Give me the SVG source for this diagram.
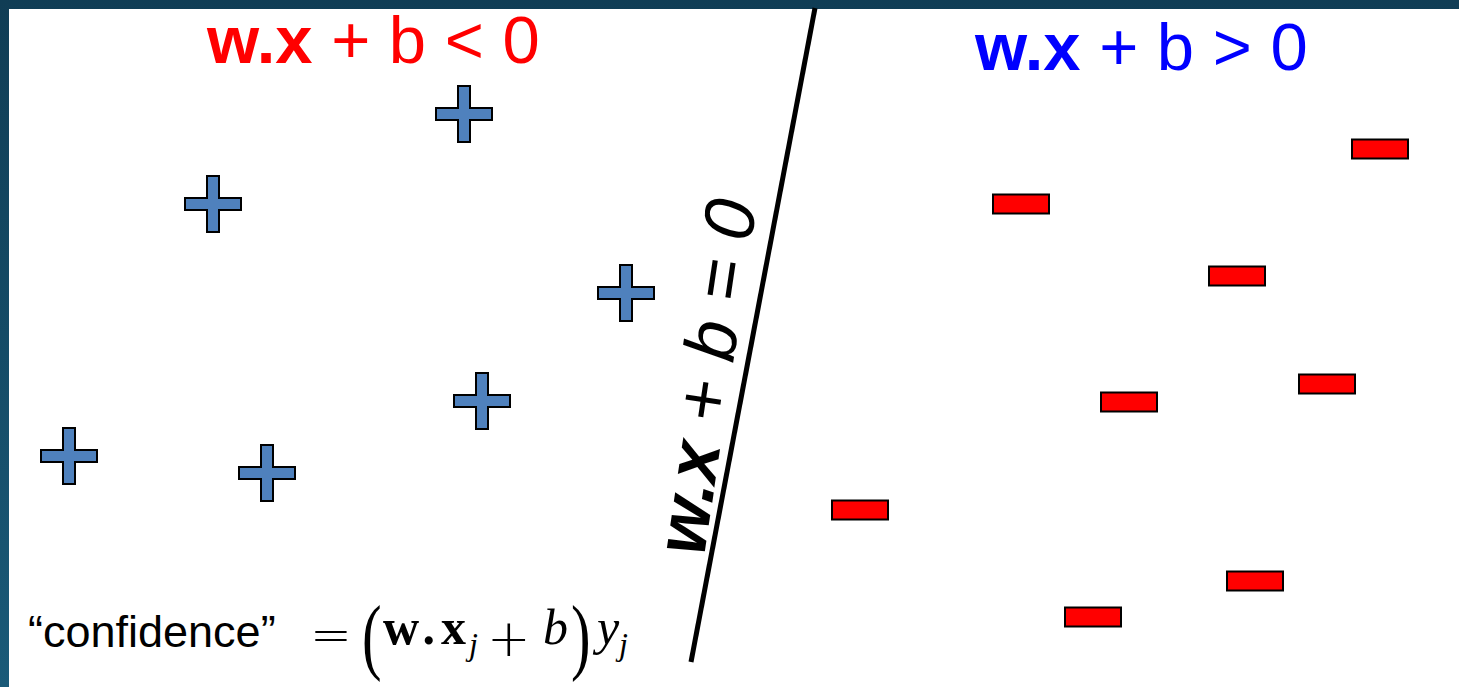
<svg xmlns="http://www.w3.org/2000/svg" xmlns:xlink="http://www.w3.org/1999/xlink" width="1459" height="687" viewBox="0 0 1459 687">
<style>
.plus{fill:#4f81bd;stroke:#000;stroke-width:2}
.minus{fill:#ff0000;stroke:#000;stroke-width:2}
.title{font-family:"Liberation Sans",Arial,sans-serif;font-size:67px}
.boundary{font-family:"Liberation Sans",Arial,sans-serif;font-size:72px;font-style:italic}
.math{font-family:"Liberation Serif","DejaVu Serif",serif;fill:#000}
.op{font-family:"DejaVu Sans","Liberation Sans",sans-serif;fill:#000;font-weight:200}
</style>
<defs>
<linearGradient id="bg" x1="0" y1="0" x2="0" y2="1">
<stop offset="0" stop-color="#103d55"/>
<stop offset="1" stop-color="#1a5a78"/>
</linearGradient>
<path id="plusShape" d="M-6,-28H6V-6H28V6H6V28H-6V6H-28V-6H-6Z"/>
<rect id="minusShape" x="-28" y="-9.5" width="56" height="19"/>
</defs>
<rect x="0" y="0" width="1459" height="687" fill="url(#bg)"/>
<rect x="9" y="9" width="1450" height="678" fill="#fff"/>

<g id="connectors">
<line x1="815" y1="8" x2="691" y2="662" stroke="#000" stroke-width="5"/>
</g>

<g id="label-neg"><text class="title" x="207" y="63" fill="#ff0000"><tspan font-weight="bold">w.x</tspan> + b &lt; 0</text></g>
<g id="label-pos"><text class="title" x="975" y="70" fill="#0000ff"><tspan font-weight="bold">w.x</tspan> + b &gt; 0</text></g>
<g id="label-boundary"><text class="boundary" transform="translate(704,557) rotate(-81.5)" fill="#000"><tspan font-weight="bold">w.x</tspan> + b = 0</text></g>

<g id="p1"><use href="#plusShape" class="plus" transform="translate(464,114)"/></g>
<g id="p2"><use href="#plusShape" class="plus" transform="translate(213,204)"/></g>
<g id="p3"><use href="#plusShape" class="plus" transform="translate(626,293)"/></g>
<g id="p4"><use href="#plusShape" class="plus" transform="translate(482,401)"/></g>
<g id="p5"><use href="#plusShape" class="plus" transform="translate(69,456)"/></g>
<g id="p6"><use href="#plusShape" class="plus" transform="translate(267,473)"/></g>

<g id="m1"><use href="#minusShape" class="minus" transform="translate(1380,149)"/></g>
<g id="m2"><use href="#minusShape" class="minus" transform="translate(1021,204)"/></g>
<g id="m3"><use href="#minusShape" class="minus" transform="translate(1237,276)"/></g>
<g id="m4"><use href="#minusShape" class="minus" transform="translate(1327,384)"/></g>
<g id="m5"><use href="#minusShape" class="minus" transform="translate(1129,402)"/></g>
<g id="m6"><use href="#minusShape" class="minus" transform="translate(860,510)"/></g>
<g id="m7"><use href="#minusShape" class="minus" transform="translate(1255,581)"/></g>
<g id="m8"><use href="#minusShape" class="minus" transform="translate(1093,617)"/></g>

<g id="confidence">
<text x="28" y="647" font-family="'Liberation Sans',Arial,sans-serif" font-size="45" fill="#000">“confidence”</text>
<text class="op" x="310" y="652" font-size="50">=</text>
<text class="math" x="362" y="664" font-size="84" transform="translate(362,664) scale(0.7,1) translate(-362,-664)">(</text>
<text class="math" x="383" y="644" font-size="50" font-weight="bold" textLength="83" lengthAdjust="spacing">w.x</text>
<text class="math" x="469" y="655" font-size="32" font-style="italic">j</text>
<text class="op" x="487" y="656" font-size="52">+</text>
<text class="math" x="543" y="644" font-size="50" font-style="italic">b</text>
<text class="math" x="571" y="664" font-size="84" transform="translate(571,664) scale(0.7,1) translate(-571,-664)">)</text>
<text class="math" x="597" y="644" font-size="50" font-style="italic">y</text>
<text class="math" x="619" y="655" font-size="32" font-style="italic">j</text>
</g>
</svg>
